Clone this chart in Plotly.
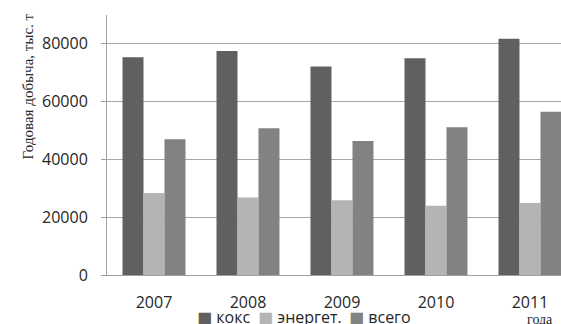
import plotly.graph_objects as go

# Annual production by type, thousand tonnes
years = ["2007", "2008", "2009", "2010", "2011"]
koks = [75400, 77500, 72200, 75000, 81800]
energet = [28400, 26800, 25900, 24000, 24900]
vsego = [47000, 50800, 46400, 51150, 56500]

series_names = ["кокс", "энергет.", "всего"]
series_colors = ["#606060", "#b4b4b4", "#828282"]
y_ticks = [0, 20000, 40000, 60000, 80000]

W, H = 561, 324
L, R, T, B = 107, 0, 15, 49
plot_w = W - L - R
plot_h = H - T - B

def px_x(p):
    return (p - L) / plot_w

def px_y(p):
    return (H - B - p) / plot_h

sans = "Open Sans, DejaVu Sans, sans-serif"
serif = "Liberation Serif, Times New Roman, serif"

fig = go.Figure()
for name, vals, col in zip(series_names, [koks, energet, vsego], series_colors):
    fig.add_trace(go.Bar(x=years, y=vals, name=name, marker_color=col,
                         marker_line_width=0, showlegend=False))

fig.update_layout(
    width=W, height=H,
    margin=dict(l=L, r=R, t=T, b=B),
    paper_bgcolor="white", plot_bgcolor="white",
    barmode="group", bargap=0.33, bargroupgap=0,
    font=dict(family=sans, size=16, color="#262626"),
)
fig.update_xaxes(
    type="category", range=[-0.5, 4.33],
    showline=True, linecolor="#a0a0a0", linewidth=1,
    ticks="", showgrid=False, ticklabelstandoff=13,
    tickfont=dict(family=sans, size=16, color="#262626"),
)
fig.update_yaxes(
    range=[0, 90000], tickvals=y_ticks, ticktext=[str(v) for v in y_ticks],
    showline=True, linecolor="#a0a0a0", linewidth=1,
    ticks="outside", ticklen=5, tickcolor="#a0a0a0",
    showgrid=True, gridcolor="#a6a6a6", gridwidth=1, zeroline=False,
    ticklabelstandoff=10,
    tickfont=dict(family=sans, size=16, color="#262626"),
)

# Axis titles
fig.add_annotation(text="Годовая добыча, тыс. т", xref="paper", yref="paper",
                   x=px_x(27.5), y=px_y(12), xanchor="center", yanchor="top",
                   textangle=-90, showarrow=False,
                   font=dict(family=serif, size=15, color="#262626"))
fig.add_annotation(text="года", xref="paper", yref="paper",
                   x=px_x(540), y=px_y(310), xanchor="center", yanchor="top",
                   showarrow=False,
                   font=dict(family=serif, size=14, color="#262626"))

# Legend row below the axis
legend_x = [195, 255.7, 346.7]
for name, col, lx in zip(series_names, series_colors, legend_x):
    fig.add_annotation(
        text=f'<span style="color:{col}">■</span> {name}',
        xref="paper", yref="paper", x=px_x(lx), y=px_y(317),
        xanchor="left", yanchor="middle", showarrow=False,
        font=dict(family=sans, size=16, color="#262626"),
    )

fig.write_html("out.html")
